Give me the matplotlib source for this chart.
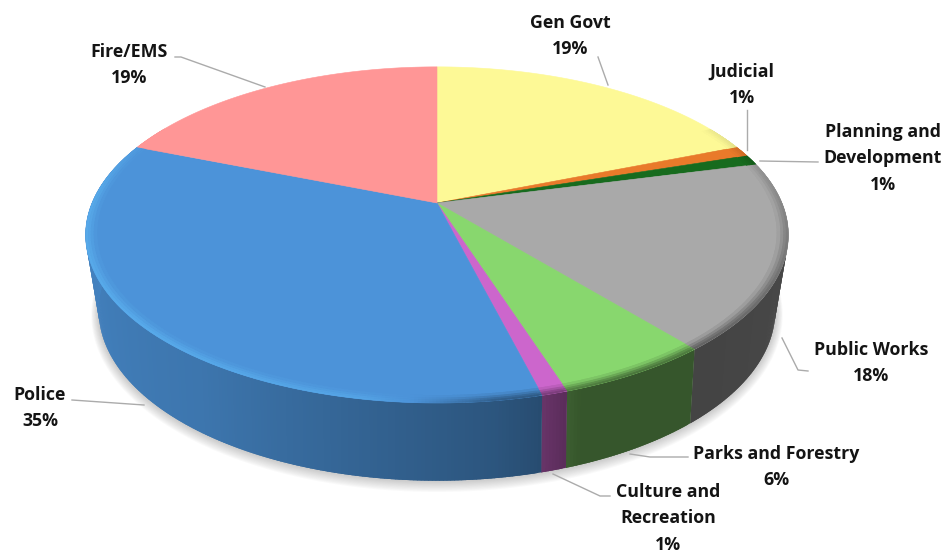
import numpy as np
import matplotlib
matplotlib.use("Agg")
import matplotlib.pyplot as plt
from matplotlib.collections import PolyCollection
from matplotlib.colors import to_rgb

# Budget shares, clockwise from 12 o'clock
categories = ["Gen Govt", "Judicial", "Planning and\nDevelopment", "Public Works",
              "Parks and Forestry", "Culture and\nRecreation", "Police", "Fire/EMS"]
shares = [19, 1, 1, 18, 6, 1, 35, 19]
colors = ["#fdf996", "#e97a2a", "#176b1e", "#a9a9a9",
          "#88d76e", "#cc66cc", "#4c93d9", "#ff9696"]

label_pos = [(570, 21), (742, 70), (883, 130), (871, 348),
             (776, 452), (668, 490), (40, 393), (129, 50)]
leaders = [[(598, 57), (608, 85)],
           [(747, 110), (747, 150)],
           [(818, 162), (760, 161)],
           [(782, 338), (798, 370), (808, 371)],
           [(630, 454), (650, 457), (688, 457)],
           [(553, 474), (600, 496), (610, 496)],
           [(72, 400), (144, 405)],
           [(175, 57), (181, 57), (265, 87)]]

# Projection of the disc onto the page (pixels)
CX, CY = 437, 203


def top_ring(ang, r=1.0):
    u, v = r * np.sin(ang), -r * np.cos(ang)
    w = 1 - 0.19 * v
    return np.column_stack([CX + 345 * u / w, CY + 162 * v / w])


def base_ring(ang):
    u, v = np.sin(ang), -np.cos(ang)
    w = 1 - 0.22 * v
    return np.column_stack([CX + 330 * u / w, CY + 70 + 162 * v / w])


# Wall brightness and rim bevel tint against the clockwise angle
def wall_shade(deg):
    return np.interp(deg, [60, 100, 140, 160, 166, 172, 195, 215, 270, 300],
                     [0.42, 0.43, 0.40, 0.40, 0.52, 0.58, 0.7, 0.8, 0.9, 0.92])


def bevel_tint(deg):
    return np.interp(deg, [60, 110, 150, 172, 190, 230, 275, 300],
                     [-0.05, -0.3, -0.45, -0.35, 0.2, 0.28, 0.25, 0.0])


def tinted(col, t):
    c = np.array(to_rgb(col))
    if t >= 0:
        return tuple(c + (np.array([0.4, 0.78, 1.0]) - c) * t * 1.6)
    return tuple(c * (1 + t))


fig = plt.figure(figsize=(9.48, 5.52), dpi=100)
ax = fig.add_axes([0, 0, 1, 1])
ax.set_xlim(0, 948)
ax.set_ylim(552, 0)
ax.axis("off")

edges = np.cumsum([0] + shares) / np.sum(shares) * 360
all_ang = np.radians(np.linspace(0, 360, 361))

# soft shadow under the disc
for i in range(10, 0, -1):
    b = base_ring(all_ang)
    b = np.column_stack([CX + (b[:, 0] - CX) * (1 + i * 0.0022),
                         CY + 70 + (b[:, 1] - CY - 70) * (1 + i * 0.004) + i * 0.3])
    ax.fill(b[:, 0], b[:, 1], color="#555555", alpha=0.03, lw=0, zorder=1)

# outer wall, built from narrow strips so the shading runs round the rim
polys, fills = [], []
for k, col in enumerate(colors):
    steps = np.arange(edges[k], edges[k + 1] + 0.5, 0.5)
    steps = steps[(steps >= 60) & (steps <= 300)]
    for a, b in zip(steps[:-1], steps[1:]):
        # strips overlap the next one to hide seams
        ang = np.radians([a, min(b + 0.6, edges[k + 1])])
        t, s = top_ring(ang), base_ring(ang)
        polys.append([t[0], t[1], s[1], s[0]])
        fills.append(tuple(np.array(to_rgb(col)) * wall_shade((a + b) / 2)))
ax.add_collection(PolyCollection(polys, facecolors=fills, edgecolors="none", zorder=2))

# top face
for k, col in enumerate(colors):
    ang = np.radians(np.linspace(edges[k], edges[k + 1], 120))
    p = np.vstack([[CX, CY], top_ring(ang)])
    ax.fill(p[:, 0], p[:, 1], color=col, lw=0.4, zorder=3)

# bevel along the front of the rim
radii = [0.968, 0.978, 0.986, 0.993, 1.0]
weights = [0.2, 0.5, 0.8, 1.0]
polys, fills = [], []
for k, col in enumerate(colors):
    steps = np.arange(edges[k], edges[k + 1] + 0.5, 0.5)
    steps = steps[(steps >= 60) & (steps <= 300)]
    for a, b in zip(steps[:-1], steps[1:]):
        ang = np.radians([a, min(b + 0.6, edges[k + 1])])
        tint = bevel_tint((a + b) / 2)
        if col != "#4c93d9" and tint > 0:
            tint = 0
        for j, w in enumerate(weights):
            i0, i1 = top_ring(ang, radii[j]), top_ring(ang, radii[j + 1])
            polys.append([i0[0], i0[1], i1[1], i1[0]])
            fills.append(tinted(col, tint * w))
ax.add_collection(PolyCollection(polys, facecolors=fills, edgecolors="none", zorder=4))

# leader lines and labels
for pts in leaders:
    xs, ys = zip(*pts)
    ax.plot(xs, ys, color="#ababab", lw=1.0, zorder=5)

for name, share, (x, y) in zip(categories, shares, label_pos):
    ax.text(x, y - 7, f"{name}\n{share}%", ha="center", va="top",
            family="Open Sans", fontweight="bold", fontsize=12.8, color="#141414",
            linespacing=1.6, zorder=6)

fig.savefig("out.png", dpi=100)
